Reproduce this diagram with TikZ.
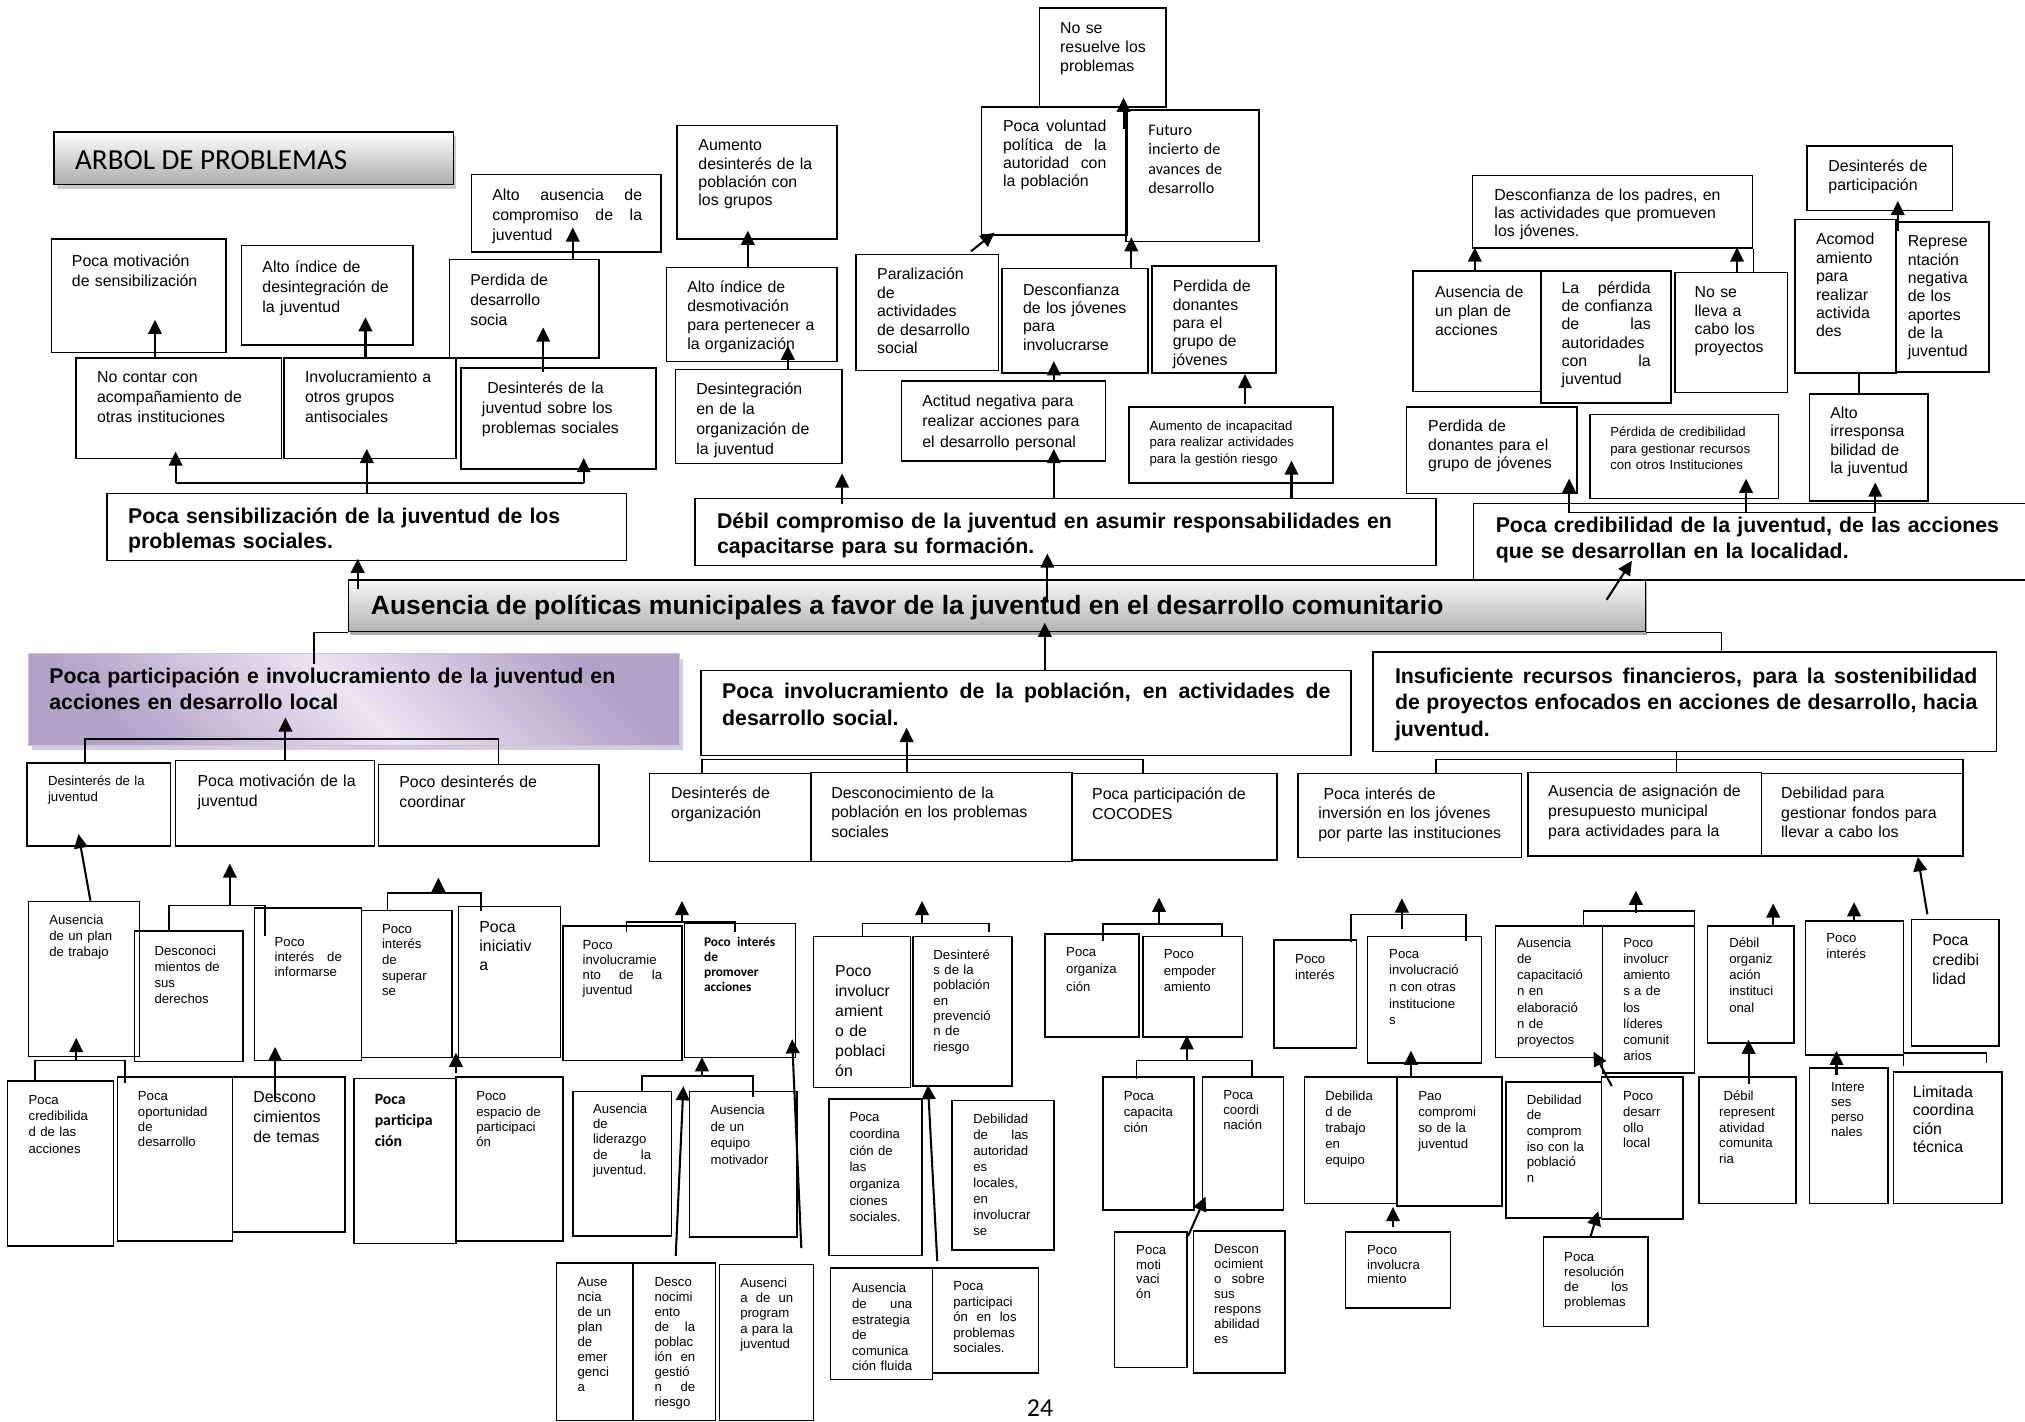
\documentclass[tikz,border=0pt]{standalone}
\usepackage{fontspec}
\setmainfont{Liberation Sans}
\newfontfamily\carl{Carlito}
\usetikzlibrary{arrows.meta,shadows,calc}

\definecolor{pdark}{RGB}{178,162,200}
\definecolor{plight}{RGB}{234,229,241}
\definecolor{pshadow}{RGB}{168,156,186}

\tikzset{
  cell/.style={draw, line width=1.2pt, inner sep=0pt},
  celltext/.style={inner sep=0pt, anchor=base west, align=left, font=\fontsize{12.3}{15.5}\selectfont},
  md/.style={font=\fontsize{12.3}{#1}\selectfont}, md/.default=15.5,
  sm/.style={font=\fontsize{10.2}{#1}\selectfont}, sm/.default=12.4,
  hd/.style={font=\bfseries\fontsize{16.5}{#1}\selectfont}, hd/.default=19.6,
  arr/.style={line width=1.6pt, -{Triangle[length=11pt,width=10.5pt]}},
  link/.style={line width=1.2pt},
}

% box: [text options]{name}{x1}{y1}{x2}{y2}{text x}{first baseline}{text}
\newcommand{\cbox}[9][]{%
  \pgfmathsetmacro{\cbW}{#5-#3}\pgfmathsetmacro{\cbH}{#6-#4}%
  \pgfmathsetmacro{\cbT}{#5-#7+30}%
  \node[cell, minimum width=\cbW pt, minimum height=\cbH pt] (#2) at ({(#3+#5)/2},{(#4+#6)/2}) {};
  \node[celltext, text width=\cbT pt, #1] (#2-t) at (#7,#8) {#9};}
% justified line
\newcommand{\jl}[2]{\leavevmode\hbox to #1pt{\spaceskip=.3em plus 1fil\relax #2}}
% vertical arrow from the top of #1 to the bottom of #2 at x=#3
\newcommand{\uparr}[5]{\draw[arr, shorten <=#4pt, shorten >=#5pt] (#1.north -| #3,0) -- (#2.south -| #3,0);}

\begin{document}
\begin{tikzpicture}[x=1pt, y=-1pt]
\useasboundingbox (0,0) rectangle (1568,1101);

% title
\node[draw, line width=1.2pt, inner sep=0pt, minimum width=309pt, minimum height=41pt,
  top color=white, bottom color=black!33,
  drop shadow={shadow xshift=2pt, shadow yshift=-3pt, fill=black!40}] (title) at (196.5,122.5) {};
\node[celltext, font=\carl\fontsize{22.5}{26}\selectfont] (title-t) at (58,131.6) {ARBOL DE PROBLEMAS};

% effects, top
\cbox{pmot}{40}{185}{175}{273}{55.5}{206}{Poca motivación\\de sensibilización}
\cbox{altoind}{187}{190}{320}{267}{203}{210.8}{Alto índice de\\desintegración de\\la juventud}
\cbox{ncont}{59}{277}{218}{355}{75}{296.4}{No contar con\\acompañamiento de\\otras instituciones}
\cbox{involu}{220}{277}{353}{355}{236}{296.4}{Involucramiento a\\otros grupos\\antisociales}
\cbox{altoaus}{365}{135}{512}{195}{381}{155}{\jl{116}{Alto ausencia de}\\\jl{116}{compromiso de la}\\juventud}
\cbox{perd}{348}{201}{464}{277}{364}{220.7}{Perdida de\\desarrollo\\socia}
\cbox{desju}{357}{285}{508}{363}{373}{304.5}{\ Desinterés de la\\juventud sobre los\\problemas sociales}
\cbox[md=14.2]{aument}{524}{97}{648}{185}{540.6}{116.7}{Aumento\\desinterés de la\\población con\\los grupos}
\cbox[md=14.7]{desmot}{516}{207}{648}{280}{532}{226.8}{Alto índice de\\desmotivación\\para pertenecer a\\la organización}
\cbox{desint}{523}{286}{652}{359}{539}{305.8}{Desintegración\\en de la\\organización de\\la juventud}
\cbox[md=14.2]{paral}{663}{197}{773}{287}{679}{216.8}{Paralización\\de\\actividades\\de desarrollo\\social}
\cbox[md=14.2]{volunt}{760}{83}{873}{182}{776.5}{102}{\jl{80}{Poca voluntad}\\\jl{80}{política de la}\\\jl{80}{autoridad con}\\la población}
\cbox[md=14.7]{noresu}{805}{6}{903}{83}{820.7}{25.8}{No se\\resuelve los\\problemas}
\cbox[font=\carl\fontsize{12.5}{15}\selectfont]{futuro}{872}{85}{975}{187}{889}{105}{Futuro\\incierto de\\avances de\\desarrollo}
\cbox[md=14.2]{descj}{776}{208}{889}{289}{792}{228.5}{Desconfianza\\de los jóvenes\\para\\involucrarse}
\cbox[md=14.2]{perdon}{892}{206}{988}{289}{908}{226}{Perdida de\\donantes\\para el\\grupo de\\jóvenes}
\cbox[md=16]{actit}{698}{295}{856}{357}{714}{314.4}{Actitud negativa para\\realizar acciones para\\el desarrollo personal}
\cbox[sm=12.9]{aumin}{874}{315}{1032}{374}{890}{333}{Aumento de incapacitad\\para realizar actividades\\para la gestión riesgo}
\cbox[md=14.2]{despad}{1140}{136}{1357}{192}{1157}{155}{Desconfianza de los padres, en\\las actividades que promueven\\los jóvenes.}
\draw[link] (despad.south east) -- ++(0,18);
\cbox[md=14.7]{ausplan}{1094}{210}{1193}{303}{1111}{230.6}{Ausencia de\\un plan de\\acciones}
\cbox[md=14.2]{perdconf}{1193}{210}{1294}{312}{1209}{227}{\jl{69}{La pérdida}\\de confianza\\\jl{69}{de las}\\autoridades\\\jl{69}{con la}\\juventud}
\cbox[md=14.2]{nolleva}{1297}{211}{1384}{304}{1312}{230.6}{No se\\lleva a\\cabo los\\proyectos}
\cbox[md=14.2]{desintp}{1399}{113}{1512}{163}{1415.6}{133}{Desinterés de\\participación}
\cbox[md=14.2]{acomod}{1390}{170}{1468}{289}{1406}{189.7}{Acomod\\amiento\\para\\realizar\\activida\\des}
\cbox[md=14.2]{repres}{1468}{172}{1540}{288}{1477}{191}{Represe\\ntación\\negativa\\de los\\aportes\\de la\\juventud}
\cbox[md=14.2]{irresp}{1401}{305}{1493}{388}{1417}{324}{Alto\\irresponsa\\bilidad de\\la juventud}
\cbox[md=14.2]{perdon2}{1089}{315}{1221}{382}{1105.7}{334.3}{Perdida de\\donantes para el\\grupo de jóvenes}
\cbox[sm=12.9]{perdcred}{1231}{321}{1377}{386}{1246.7}{338}{Pérdida de credibilidad\\para gestionar recursos\\con otros Instituciones}

% main effects
\cbox[hd]{sensib}{83}{382}{485}{434}{99}{405}{Poca sensibilización de la juventud de los\\problemas sociales.}
\cbox[hd]{debil}{538}{386}{1112}{438}{555}{409}{Débil compromiso de la juventud en asumir responsabilidades en\\capacitarse para su formación.}
\cbox[hd]{credib}{1141}{390}{1575}{449}{1158}{412.5}{Poca credibilidad de la juventud, de las acciones\\que se desarrollan en la localidad.}

% central problem
\node[draw, line width=1.2pt, inner sep=0pt, minimum width=1004pt, minimum height=40pt,
  top color=black!3, bottom color=black!30,
  drop shadow={shadow xshift=1pt, shadow yshift=-2.5pt, fill=black!65}] (central) at (772,469) {};
\node[celltext, font=\bfseries\fontsize{20.5}{24}\selectfont] (central-t) at (287,476) {Ausencia de políticas municipales a favor de la juventud en el desarrollo comunitario};

% main causes
\node[inner sep=0pt, minimum width=504pt, minimum height=71pt, draw={rgb,255:red,205;green,195;blue,220}, line width=1pt,
  top color=pdark, bottom color=pdark, middle color=plight, shading angle=-45,
  drop shadow={shadow xshift=3pt, shadow yshift=-4pt, fill=pshadow}] (purple) at (274,541.5) {};
\node[celltext, hd=20.6, text width=480pt] (purple-t) at (38,529) {Poca participación e involucramiento de la juventud en\\acciones en desarrollo local};
\cbox[hd=20.6]{pinvol}{543}{519}{1046}{585}{559}{541}{\jl{471}{Poca involucramiento de la población, en actividades de}\\desarrollo social.}
\cbox[hd=20.6]{insuf}{1063}{505}{1546}{582}{1080}{529}{\jl{451}{Insuficiente recursos financieros, para la sostenibilidad}\\\jl{451}{de proyectos enfocados en acciones de desarrollo, hacia}\\juventud.}

% causes, level 1
\cbox[sm=12.1]{desjuv}{21}{591}{132}{655}{37}{608.6}{Desinterés de la\\juventud}
\cbox{motjuv}{136}{589}{290}{655}{152.8}{609.3}{Poca motivación de la\\juventud}
\cbox{coord}{293}{592}{464}{655}{309}{610}{Poco desinterés de\\coordinar}
\cbox{desorg}{503}{599}{628}{667}{519.5}{618}{Desinterés de\\organización}
\cbox[md=15.2]{descpob}{628}{598}{830}{667}{643.5}{618}{Desconocimiento de la\\población en los problemas\\sociales}
\cbox{cocodes}{830}{599}{989}{666}{845.5}{618.8}{Poca participación de\\COCODES}
\cbox[md=15.2]{inver}{1005}{599}{1178}{664}{1020.6}{618.8}{\ Poca interés de\\inversión en los jóvenes\\por parte las instituciones}
\cbox[md=15.4]{asign}{1183}{598}{1364}{663}{1198.6}{617}{Ausencia de asignación de\\presupuesto municipal\\para actividades para la}
\cbox[md=15.4]{fondos}{1364}{599}{1520}{663}{1379}{618}{Debilidad para\\gestionar fondos para\\llevar a cabo los}

% causes, lower levels
\cbox[sm=12.4]{ausplt}{22}{698}{108}{818}{38}{716}{Ausencia\\de un plan\\de trabajo}
\cbox[sm=12.5]{desder}{104}{721}{188}{822}{119.5}{739.5}{Desconoci\\mientos de\\sus\\derechos}
\cbox[sm=11.6]{infor}{197}{703}{280}{821}{212.5}{733}{Poco\\\jl{52}{interés de}\\informarse}
\cbox[sm=12.1]{super}{280}{705}{350}{819}{295.6}{722.6}{Poco\\interés\\de\\superar\\se}
\cbox[md=15]{inicia}{355}{702}{434}{819}{371}{721.7}{Poca\\iniciativ\\a}
\cbox[sm=12.6]{cred}{5.7}{837}{88}{965}{22}{855}{Poca\\credibilida\\d de las\\acciones}
\cbox[sm=11.8]{oport}{91}{834}{180}{961}{106.6}{852.5}{Poca\\oportunidad\\de\\desarrollo}
\cbox[md=15.2]{temas}{180}{834}{267}{954}{196}{854}{Descono\\cimientos\\de temas}
\cbox[font=\carl\bfseries\fontsize{12.2}{16.3}\selectfont]{partic}{274}{835}{353}{963}{290}{855}{Poca\\participa\\ción}
\cbox[sm=11.8]{espac}{353}{834}{436}{961}{368.6}{852.5}{Poco\\espacio de\\participaci\\ón}
\cbox[sm=11.6]{involj}{436}{717}{528}{821}{451}{735}{Poco\\involucramie\\\jl{61.5}{nto de la}\\juventud}
\cbox[font=\carl\bfseries\fontsize{10.3}{11.6}\selectfont]{promov}{530}{715}{616}{819}{545}{733}{\jl{55}{Poco interés}\\de\\promover\\acciones}
\cbox[sm=11.9]{lider}{443.6}{845}{520}{957}{459}{862}{Ausencia\\de\\liderazgo\\\jl{45}{de la}\\juventud.}
\cbox[sm=12.9]{equipo}{534}{845}{617}{958}{550}{863}{Ausencia\\de un\\equipo\\motivador}
\cbox[sm=11.6]{emerg}{431}{978}{490}{1100}{447}{996.4}{Ause\\ncia\\de un\\plan\\de\\emer\\genci\\a}
\cbox[sm=11.6]{gestion}{490}{978}{554}{1100}{506.6}{996.4}{Desco\\nocimi\\ento\\\jl{31.5}{de la}\\poblac\\\jl{31.5}{ión en}\\gestió\\\jl{31.5}{n de}\\riesgo}
\cbox[sm=11.9]{program}{557}{979}{630}{1100}{573}{996.6}{Ausenci\\\jl{41}{a de un}\\program\\a para la\\juventud}
\cbox[md=15.5]{involpob}{630}{725}{705}{842}{646.5}{756.4}{Poco\\involucr\\amient\\o de\\poblaci\\ón}
\cbox[sm=11.9]{desprev}{707}{725}{783.5}{841}{722.6}{742.6}{Desinteré\\s de la\\población\\en\\prevenció\\n de\\riesgo}
\cbox[sm=12.9]{coordorg}{642}{851}{714}{972}{657.6}{868.6}{Poca\\coordina\\ción de\\las\\organiza\\ciones\\sociales.}
\cbox[sm=12.4]{debaut}{737}{852}{816}{968}{753.5}{870}{Debilidad\\\jl{42.5}{de las}\\autoridad\\es\\locales,\\en\\involucrar\\se}
\cbox[sm=12.1]{comunic}{643}{982}{722}{1068}{659.6}{1001}{Ausencia\\\jl{46.5}{de una}\\estrategia\\de\\comunica\\ción fluida}
\cbox[sm=11.9]{partprob}{722}{982}{804}{1063}{738}{999.6}{Poca\\participaci\\\jl{49}{ón en los}\\problemas\\sociales.}
\cbox[sm=13.4]{org}{809}{723}{882}{803}{825.4}{740.7}{Poca\\organiza\\ción}
\cbox[sm=13]{empod}{885}{725}{962}{803}{901}{742}{Poco\\empoder\\amiento}
\cbox[sm=12.4]{capac}{854}{834}{924.5}{937}{870}{852.4}{Poca\\capacita\\ción}
\cbox[sm=11.6]{coordi}{931}{834}{994}{937}{947}{851.7}{Poca\\coordi\\nación}
\cbox[sm=11.6]{motiv}{863}{954}{919}{1059}{879.6}{971}{Poca\\moti\\vaci\\ón}
\cbox[sm=11.6]{respon}{924}{953}{995}{1063}{940}{970.4}{Descon\\ocimient\\\jl{39}{o sobre}\\sus\\respons\\abilidad\\es}
\cbox[sm=12.9]{poin}{986.5}{728}{1050.5}{811.5}{1002.7}{745.8}{Poco\\interés}
\cbox[sm=12.9]{otrasinst}{1059}{725}{1147}{823}{1075.5}{742}{Poca\\involucració\\n con otras\\institucione\\s}
\cbox[sm=12.4]{trabeq}{1010}{834}{1081.5}{932}{1026}{852.4}{Debilida\\d de\\trabajo\\en\\equipo}
\cbox[sm=12.4]{paocomp}{1081.5}{834}{1163}{934}{1098}{852.4}{Pao\\compromi\\so de la\\juventud}
\cbox[sm=11.6]{poinv}{1042}{954}{1123}{1013}{1058.4}{971}{Poco\\involucra\\miento}
\cbox[sm=12.4]{ausecap}{1158}{717}{1241}{819}{1174.5}{734}{Ausencia\\de\\capacitació\\n en\\elaboració\\n de\\proyectos}
\cbox[sm=12.4]{lideres}{1241}{717}{1312}{831}{1256.7}{734}{Poco\\involucr\\amiento\\s a de\\los\\líderes\\comunit\\arios}
\cbox[sm=12.1]{compob}{1166}{838}{1240}{943}{1182}{855}{Debilidad\\de\\comprom\\iso con la\\població\\n}
\cbox[sm=12.1]{deslocal}{1240}{834}{1303}{944}{1256.6}{852.4}{Poco\\desarr\\ollo\\local}
\cbox[sm=11.6]{resol}{1195}{958}{1276}{1027}{1211}{976.5}{Poca\\resolución\\\jl{49.6}{de los}\\problemas}
\cbox[sm=12.4]{orginst}{1322}{717}{1389}{807.5}{1338.8}{734}{Débil\\organiz\\ación\\instituci\\onal}
\cbox[sm=12.1]{repcom}{1315.5}{834}{1390.6}{932}{1331}{852.4}{\ Débil\\represent\\atividad\\comunita\\ria}
\cbox[sm=12.4]{pointer}{1398}{713}{1474}{817}{1414}{730}{Poco\\interés}
\cbox[md=15]{pocacred}{1480}{712}{1548}{810}{1496}{732.3}{Poca\\credibi\\lidad}
\cbox[sm=11.6]{intper}{1401}{827}{1462}{932}{1417.6}{845.5}{Intere\\ses\\perso\\nales}
\cbox[md=14.3]{limcoord}{1466}{830}{1550}{932}{1481}{849.6}{Limitada\\coordina\\ción\\técnica}

\node[celltext, font=\carl\fontsize{20}{24}\selectfont] (pagenum) at (795,1097) {24};

% bracket junctions
\coordinate (sn1) at (136,374); \coordinate (sn2) at (452,374);
\coordinate (cr1) at (1215,397); \coordinate (cr2) at (1352,397); \coordinate (cr3) at (1452,397);
\coordinate (pp1) at (66,572); \coordinate (pp2) at (386,572);
\coordinate (pv1) at (543.5,588); \coordinate (pv2) at (885,588);
\coordinate (is1) at (1112,588); \coordinate (is2) at (1520,588);
\coordinate (a1) at (131,701); \coordinate (a2) at (205,701); \coordinate (a3) at (178,701);
\coordinate (a4) at (300,691.6); \coordinate (a5) at (372.5,691.6); \coordinate (a6) at (339.5,691.6);
\coordinate (a7) at (27,821); \coordinate (a8) at (97,821); \coordinate (a9) at (59,821);
\coordinate (b1) at (485,714); \coordinate (b2) at (569,714); \coordinate (b3) at (528,714);
\coordinate (b4) at (497,833); \coordinate (b5) at (583,833); \coordinate (b6) at (543.5,833);
\coordinate (c1) at (668,715); \coordinate (c2) at (766,715); \coordinate (c3) at (714,715);
\coordinate (d1) at (854,715.5); \coordinate (d2) at (946,715.5); \coordinate (d3) at (897.5,715.5);
\coordinate (d4) at (880,821); \coordinate (d5) at (969.5,821); \coordinate (d6) at (919,821);
\coordinate (e1) at (1046,708); \coordinate (e2) at (1135,708); \coordinate (e3) at (1085.5,708);
\coordinate (f1) at (1226,705.5); \coordinate (f2) at (1312,705.5); \coordinate (f3) at (1266.7,705.5);

% top arrows
\uparr{ncont}{pmot}{120}{0}{-26}
\uparr{involu}{altoind}{283}{0}{-22}
\uparr{desju}{perd}{420.6}{-3.6}{-24}
\uparr{perd}{altoaus}{443.5}{0}{-19.5}
\draw[link] (sn1) -- (sn2);
\draw[arr, shorten >=-6] (sn1) -- (ncont.south -| sn1);
\draw[arr, shorten >=-9] (sn2) -- (desju.south -| sn2);
\uparr{sensib}{involu}{284}{0}{-8}
\uparr{debil}{desint}{652}{-5}{7}
\uparr{debil}{actit}{816}{0}{-10}
\uparr{debil}{aumin}{1000}{0}{-18}
\uparr{desint}{desmot}{610}{0}{-13}
\uparr{desmot}{aument}{579}{0}{-7}
\draw[arr, shorten <=3, shorten >=-4] (paral.north -| 749.5,0) -- (volunt.south -| 767,0);
\uparr{actit}{descj}{816}{0}{-10}
\uparr{descj}{futuro}{876}{0}{-4}
\draw[arr] ($(volunt.north -| 870,0)+(0,17.6)$) -- ($(noresu.south -| 870,0)+(0,-8)$);
\uparr{aumin}{perdon}{964}{1.4}{0}
\draw[link] (cr1) -- (cr3);
\draw[arr, shorten >=-12] (cr1) -- (perdon2.south -| cr1);
\draw[arr, shorten >=-16] (cr2) -- (perdcred.south -| cr2);
\draw[arr, shorten >=-15] (cr3) -- (irresp.south -| cr3);
\uparr{ausplan}{despad}{1142}{0}{-1}
\uparr{nolleva}{despad}{1345}{0}{-1}
\draw[link] (irresp.north -| 1439.5,0) -- (acomod.south -| 1439.5,0);
\uparr{acomod}{desintp}{1469.5}{-9.5}{-8}

% central links
\uparr{central}{sensib}{277}{-8}{-2}
\uparr{central}{debil}{811}{-18}{-10}
\draw[arr] ($(central.north -| 1244,0)+(0,16)$) -- ($(credib.south -| 1263.6,0)+(0,-15.4)$);
\uparr{pinvol}{central}{809}{0}{-7.4}
\draw[link] (central.south west) -| ($(purple.north -| 243,0)+(0,9)$);
\draw[link] (central.south east) -| (insuf.north -| 1333,0);

% cause brackets
\draw[link] (desjuv.north -| pp1) -- (pp1) -- (pp2) -- (coord.north -| pp2);
\uparr{motjuv}{purple}{221}{0}{-22}
\draw[link] (desorg.north -| pv1) -- (pv1) -- (pv2) -- (cocodes.north -| pv2);
\uparr{descpob}{pinvol}{702}{0}{-22}
\draw[link] (inver.north -| is1) -- (is1) -- (is2) -- (fondos.north -| is2);
\draw[link] (insuf.south -| 1298,0) -- (asign.north -| 1298,0);

% lower arrows, left
\draw[arr, shorten >=-10] (ausplt.north -| 70,0) -- (desjuv.south -| 62.5,0);
\draw[link] (desder.north -| a1) -- (a1) -- (a2) -- ($(infor.north -| a2)+(0,22)$);
\draw[arr, shorten >=13] (a3) -- (motjuv.south -| a3);
\draw[link] ($(super.north -| a4)+(0,1)$) -- (a4) -- (a5) -- ($(inicia.north -| a5)+(0,4)$);
\draw[arr, shorten >=24] (a6) -- (coord.south -| a6);
\draw[link] (cred.north -| a7) -- (a7) -- (a8) -- ($(oport.north -| a8)+(0,5)$);
\draw[arr, shorten >=-15] (a9) -- (ausplt.south -| a9);
\uparr{temas}{infor}{213}{-18}{-11}
\uparr{espac}{super}{353}{2.4}{-4.5}

% lower arrows, middle
\draw[link] ($(involj.north -| b1)+(0,5)$) -- (b1) -- (b2) -- ($(promov.north -| b2)+(0,7)$);
\draw[arr, shorten >=30] (b3) -- (desorg.south -| b3);
\draw[link] (lider.north -| b4) -- (b4) -- (b5) -- ($(equipo.north -| b5)+(0,5)$);
\draw[arr, shorten >=-1] (b6) -- (promov.south -| b6);
\draw[arr, shorten <=5, shorten >=-3.4] (gestion.north -| 523,0) -- (lider.north -| 529,0);
\draw[arr, shorten <=12, shorten >=-15] (program.north -| 621,0) -- (promov.south -| 614,0);
\draw[link] (involpob.north -| c1) -- (c1) -- (c2) -- ($(desprev.north -| c2)+(0,-2.5)$);
\draw[arr, shorten >=30] (c3) -- (descpob.south -| c3);
\draw[arr, shorten <=5, shorten >=-1.5] (partprob.north -| 726,0) -- (desprev.south -| 718.6,0);
\draw[link] ($(org.north -| d1)+(0,6)$) -- (d1) -- (d2) -- ($(empod.north -| d2)+(0,1)$);
\draw[arr, shorten >=28.5] (d3) -- (cocodes.south -| d3);
\draw[link] ($(capac.north -| d4)+(0,2)$) -- (d4) -- (d5) -- (coordi.north -| d5);
\draw[arr, shorten >=-2] (d6) -- (empod.south -| d6);
\draw[arr, shorten <=-4, shorten >=-12] (motiv.north -| 921.6,0) -- (coordi.south -| 928.6,0);

% lower arrows, right
\draw[link] ($(poin.north -| e1)+(0,2)$) -- (e1) -- (e2) -- ($(otrasinst.north -| e2)+(0,4)$);
\draw[arr, shorten <=-11, shorten >=31] (e3) -- (inver.south -| e3);
\uparr{paocomp}{otrasinst}{1092.5}{0}{-10}
\uparr{poinv}{trabeq}{1078.6}{3}{2}
\draw[link] (ausecap.north -| f1) -- (f1) -- (f2) -- ($(lideres.north -| f2)+(0,4)$);
\draw[arr, shorten <=-1.5, shorten >=26] (f3) -- (asign.south -| f3);
\draw[arr, shorten <=-8.5, shorten >=-6] (deslocal.north -| 1244,0) -- (ausecap.south -| 1236.7,0);
\draw[arr, shorten >=-6] (resol.north -| 1231.6,0) -- (compob.south -| 1235.8,0);
\draw[arr, shorten >=36] (orginst.north -| 1373,0) -- (fondos.south -| 1373,0);
\uparr{repcom}{orginst}{1354}{-6}{-3}
\draw[arr, shorten >=35] (pointer.north -| 1435.6,0) -- (fondos.south -| 1435.6,0);
\draw[arr, shorten <=3.5] (pocacred.north -| 1493,0) -- (fondos.south -| 1485,0);
\uparr{intper}{pointer}{1422}{-6}{-4}
\draw[link] ($(limcoord.north -| 1474,0)+(0,-4)$) |- ($(limcoord.north -| 1538,0)+(0,-14)$) -- ($(limcoord.north -| 1538,0)+(0,-6)$);
\end{tikzpicture}
\end{document}
